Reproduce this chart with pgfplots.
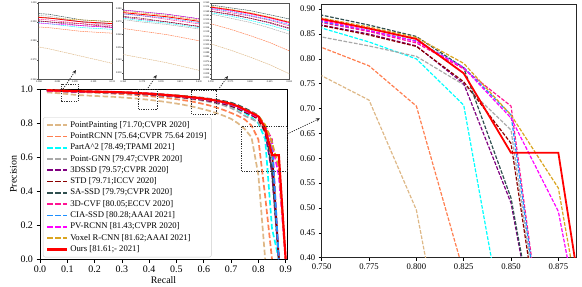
\documentclass[border=0pt]{standalone}
\usepackage{pgfplots}
\pgfplotsset{compat=1.18}
\usepackage{pgfplotstable}
\usepackage{fontspec}
\setmainfont{Liberation Serif}
\usetikzlibrary{arrows.meta}

\definecolor{cPP}{HTML}{DEB887}
\definecolor{cPR}{HTML}{FF7F50}
\definecolor{cPA}{HTML}{00FFFF}
\definecolor{cGN}{HTML}{A9A9A9}
\definecolor{cSS}{HTML}{800080}
\definecolor{cSTD}{HTML}{8B0000}
\definecolor{cSA}{HTML}{2F4F4F}
\definecolor{cCVF}{HTML}{FF1493}
\definecolor{cCIA}{HTML}{1E90FF}
\definecolor{cPV}{HTML}{FF00FF}
\definecolor{cVX}{HTML}{DAA520}
\definecolor{cOurs}{HTML}{FF0000}

\pgfplotstableread{
r p
0.025 0.982
0.050 0.979
0.075 0.976
0.100 0.972
0.125 0.968
0.150 0.965
0.175 0.963
0.200 0.961
0.225 0.959
0.250 0.957
0.275 0.955
0.300 0.952
0.325 0.949
0.350 0.946
0.375 0.942
0.400 0.938
0.425 0.933
0.450 0.928
0.475 0.922
0.500 0.916
0.525 0.909
0.550 0.901
0.575 0.892
0.600 0.882
0.625 0.871
0.650 0.858
0.675 0.843
0.700 0.826
0.725 0.800
0.750 0.766
0.775 0.717
0.800 0.496
0.825 0.000
}\tPP

\pgfplotstableread{
r p
0.025 0.990
0.050 0.988
0.075 0.987
0.100 0.985
0.125 0.984
0.150 0.983
0.175 0.981
0.200 0.980
0.225 0.978
0.250 0.976
0.275 0.974
0.300 0.972
0.325 0.969
0.350 0.966
0.375 0.963
0.400 0.960
0.425 0.956
0.450 0.952
0.475 0.947
0.500 0.942
0.525 0.936
0.550 0.930
0.575 0.922
0.600 0.913
0.625 0.903
0.650 0.891
0.675 0.877
0.700 0.861
0.725 0.844
0.750 0.823
0.775 0.786
0.800 0.705
0.825 0.370
0.850 0.000
}\tPR

\pgfplotstableread{
r p
0.025 0.993
0.050 0.991
0.075 0.989
0.100 0.987
0.125 0.986
0.150 0.985
0.175 0.984
0.200 0.983
0.225 0.982
0.250 0.981
0.275 0.980
0.300 0.979
0.325 0.976
0.350 0.974
0.375 0.971
0.400 0.969
0.425 0.966
0.450 0.963
0.475 0.959
0.500 0.956
0.525 0.951
0.550 0.946
0.575 0.941
0.600 0.935
0.625 0.928
0.650 0.920
0.675 0.911
0.700 0.900
0.725 0.883
0.750 0.862
0.775 0.834
0.800 0.800
0.825 0.707
0.850 0.180
0.875 0.000
}\tPA

\pgfplotstableread{
r p
0.025 0.996
0.050 0.994
0.075 0.993
0.100 0.990
0.125 0.988
0.150 0.986
0.175 0.985
0.200 0.983
0.225 0.982
0.250 0.981
0.275 0.980
0.300 0.979
0.325 0.976
0.350 0.973
0.375 0.970
0.400 0.968
0.425 0.965
0.450 0.962
0.475 0.958
0.500 0.955
0.525 0.950
0.550 0.944
0.575 0.938
0.600 0.932
0.625 0.924
0.650 0.915
0.675 0.904
0.700 0.890
0.725 0.870
0.750 0.844
0.775 0.826
0.800 0.805
0.825 0.748
0.850 0.657
0.875 0.000
}\tGN

\pgfplotstableread{
r p
0.025 0.993
0.050 0.991
0.075 0.990
0.100 0.988
0.125 0.987
0.150 0.986
0.175 0.985
0.200 0.984
0.225 0.983
0.250 0.982
0.275 0.981
0.300 0.980
0.325 0.977
0.350 0.975
0.375 0.972
0.400 0.970
0.425 0.967
0.450 0.964
0.475 0.961
0.500 0.958
0.525 0.953
0.550 0.948
0.575 0.943
0.600 0.938
0.625 0.931
0.650 0.923
0.675 0.914
0.700 0.903
0.725 0.888
0.750 0.868
0.775 0.850
0.800 0.826
0.825 0.750
0.850 0.510
0.875 0.000
}\tSS

\pgfplotstableread{
r p
0.025 0.994
0.050 0.992
0.075 0.990
0.100 0.989
0.125 0.987
0.150 0.986
0.175 0.985
0.200 0.984
0.225 0.983
0.250 0.982
0.275 0.981
0.300 0.979
0.325 0.977
0.350 0.975
0.375 0.973
0.400 0.970
0.425 0.967
0.450 0.964
0.475 0.961
0.500 0.957
0.525 0.953
0.550 0.948
0.575 0.944
0.600 0.938
0.625 0.932
0.650 0.924
0.675 0.915
0.700 0.903
0.725 0.887
0.750 0.867
0.775 0.848
0.800 0.825
0.825 0.754
0.850 0.630
0.875 0.000
}\tSTD

\pgfplotstableread{
r p
0.025 0.996
0.050 0.995
0.075 0.994
0.100 0.991
0.125 0.990
0.150 0.989
0.175 0.988
0.200 0.987
0.225 0.986
0.250 0.985
0.275 0.984
0.300 0.983
0.325 0.982
0.350 0.980
0.375 0.978
0.400 0.976
0.425 0.973
0.450 0.970
0.475 0.967
0.500 0.964
0.525 0.961
0.550 0.957
0.575 0.953
0.600 0.949
0.625 0.943
0.650 0.937
0.675 0.930
0.700 0.921
0.725 0.907
0.750 0.888
0.775 0.868
0.800 0.845
0.825 0.782
0.850 0.520
0.875 0.000
}\tSA

\pgfplotstableread{
r p
0.025 0.994
0.050 0.992
0.075 0.991
0.100 0.989
0.125 0.988
0.150 0.987
0.175 0.986
0.200 0.985
0.225 0.984
0.250 0.983
0.275 0.982
0.300 0.981
0.325 0.979
0.350 0.977
0.375 0.975
0.400 0.972
0.425 0.969
0.450 0.966
0.475 0.963
0.500 0.960
0.525 0.955
0.550 0.951
0.575 0.946
0.600 0.941
0.625 0.935
0.650 0.927
0.675 0.919
0.700 0.908
0.725 0.893
0.750 0.873
0.775 0.855
0.800 0.832
0.825 0.780
0.850 0.705
0.875 0.000
}\tCVF

\pgfplotstableread{
r p
0.025 0.995
0.050 0.993
0.075 0.992
0.100 0.990
0.125 0.989
0.150 0.988
0.175 0.987
0.200 0.985
0.225 0.984
0.250 0.983
0.275 0.982
0.300 0.981
0.325 0.979
0.350 0.977
0.375 0.975
0.400 0.973
0.425 0.970
0.450 0.967
0.475 0.964
0.500 0.960
0.525 0.956
0.550 0.952
0.575 0.948
0.600 0.942
0.625 0.936
0.650 0.929
0.675 0.921
0.700 0.910
0.725 0.895
0.750 0.875
0.775 0.857
0.800 0.836
0.825 0.783
0.850 0.687
0.875 0.000
}\tCIA

\pgfplotstableread{
r p
0.025 0.992
0.050 0.990
0.075 0.989
0.100 0.988
0.125 0.987
0.150 0.987
0.175 0.987
0.200 0.987
0.225 0.986
0.250 0.986
0.275 0.985
0.300 0.984
0.325 0.982
0.350 0.980
0.375 0.978
0.400 0.976
0.425 0.973
0.450 0.969
0.475 0.965
0.500 0.961
0.525 0.957
0.550 0.953
0.575 0.949
0.600 0.944
0.625 0.938
0.650 0.931
0.675 0.922
0.700 0.912
0.725 0.897
0.750 0.877
0.775 0.857
0.800 0.835
0.825 0.782
0.850 0.681
0.875 0.493
0.900 0.000
}\tPV

\pgfplotstableread{
r p
0.025 0.995
0.050 0.994
0.075 0.992
0.100 0.991
0.125 0.990
0.150 0.989
0.175 0.988
0.200 0.987
0.225 0.986
0.250 0.985
0.275 0.984
0.300 0.983
0.325 0.981
0.350 0.979
0.375 0.977
0.400 0.975
0.425 0.972
0.450 0.969
0.475 0.966
0.500 0.963
0.525 0.959
0.550 0.955
0.575 0.951
0.600 0.946
0.625 0.940
0.650 0.933
0.675 0.925
0.700 0.915
0.725 0.901
0.750 0.882
0.775 0.864
0.800 0.843
0.825 0.791
0.850 0.687
0.875 0.540
0.900 0.000
}\tVX

\pgfplotstableread{
r p
0.025 0.995
0.050 0.993
0.075 0.992
0.100 0.990
0.125 0.989
0.150 0.988
0.175 0.987
0.200 0.986
0.225 0.985
0.250 0.984
0.275 0.983
0.300 0.982
0.325 0.980
0.350 0.978
0.375 0.976
0.400 0.974
0.425 0.971
0.450 0.968
0.475 0.965
0.500 0.962
0.525 0.958
0.550 0.954
0.575 0.950
0.600 0.945
0.625 0.939
0.650 0.932
0.675 0.924
0.700 0.914
0.725 0.900
0.750 0.880
0.775 0.861
0.800 0.840
0.825 0.771
0.850 0.611
0.875 0.611
0.900 0.000
}\tOurs

\newcommand{\plotall}[2]{%
\addplot[cPP,#1] table[x=r,y=p]{\tPP};
\addplot[cPR,#1] table[x=r,y=p]{\tPR};
\addplot[cPA,#1] table[x=r,y=p]{\tPA};
\addplot[cGN,#1] table[x=r,y=p]{\tGN};
\addplot[cSS,#1] table[x=r,y=p]{\tSS};
\addplot[cSTD,#1] table[x=r,y=p]{\tSTD};
\addplot[cSA,#1] table[x=r,y=p]{\tSA};
\addplot[cCVF,#1] table[x=r,y=p]{\tCVF};
\addplot[cCIA,#1] table[x=r,y=p]{\tCIA};
\addplot[cPV,#1] table[x=r,y=p]{\tPV};
\addplot[cVX,#1] table[x=r,y=p]{\tVX};
\addplot[cOurs,#2] table[x=r,y=p]{\tOurs};
}

\pgfplotsset{
  /pgf/number format/assume math mode=true,
  inset/.style={
    scale only axis, anchor=south west,
    axis line style={gray!65!black, line width=0.5bp},
    tick pos=left, tick align=outside, major tick length=1bp,
    tick style={gray!65!black, line width=0.3bp},
    tick label style={font=\fontsize{2.5}{3}\selectfont, inner sep=0.5bp},
    scaled ticks=false,
    xticklabel style={/pgf/number format/fixed, /pgf/number format/fixed zerofill, /pgf/number format/precision=3},
    yticklabel style={/pgf/number format/fixed, /pgf/number format/fixed zerofill, /pgf/number format/precision=3},
  },
}

\begin{document}
\begin{tikzpicture}
\useasboundingbox (0,0) rectangle (582bp,287bp);

% main axis
\begin{axis}[
  at={(40bp,28bp)}, anchor=south west,
  scale only axis, width=247bp, height=169.7bp,
  xmin=0, xmax=0.905, ymin=0, ymax=1,
  xtick={0,0.1,0.2,0.3,0.4,0.5,0.6,0.7,0.8,0.9},
  ytick={0,0.2,0.4,0.6,0.8,1.0},
  scaled ticks=false,
  tick pos=left, tick align=outside, major tick length=3.5bp,
  tick style={black, line width=0.6bp},
  axis line style={line width=0.8bp},
  tick label style={font=\fontsize{10}{12}\selectfont},
  xticklabel style={/pgf/number format/fixed, /pgf/number format/fixed zerofill, /pgf/number format/precision=1},
  yticklabel style={/pgf/number format/fixed, /pgf/number format/fixed zerofill, /pgf/number format/precision=1},
  xlabel={Recall}, ylabel={Precision},
  label style={font=\fontsize{10}{12}\selectfont},
  xlabel style={yshift=3bp},
  ylabel style={yshift=-3bp},
  clip=false,
  legend image code/.code={\draw[#1] (0bp,0bp) -- (20bp,0bp);},
  legend cell align=left,
  legend style={at={(0.012,0.835)}, anchor=north west, draw=gray!40, rounded corners=2pt,
    font=\fontsize{8.7}{9.5}\selectfont, row sep=0pt,
    nodes={inner ysep=1.65bp, inner xsep=2bp, text height=6bp, text depth=2bp}},
  legend entries={{PointPainting [71.70;CVPR 2020]},
    {PointRCNN [75.64;CVPR 75.64 2019]},
    {PartA\textasciicircum 2 [78.49;TPAMI 2021]},
    {Point-GNN [79.47;CVPR 2020]},
    {3DSSD [79.57;CVPR 2020]},
    {STD [79.71;ICCV 2020]},
    {SA-SSD [79.79;CVPR 2020]},
    {3D-CVF [80.05;ECCV 2020]},
    {CIA-SSD [80.28;AAAI 2021]},
    {PV-RCNN [81.43;CVPR 2020]},
    {Voxel R-CNN [81.62;AAAI 2021]},
    {Ours [81.61;- 2021]}},
]
\plotall{line width=1.7bp, dash pattern=on 5.5bp off 2.5bp}{line width=2.2bp}
\draw[dash pattern=on 1.2bp off 1.2bp, line width=0.8bp, black!80] (axis cs:0.0795,0.927) rectangle (axis cs:0.140,1.031);
\draw[dash pattern=on 1.2bp off 1.2bp, line width=0.8bp, black!80] (axis cs:0.360,0.882) rectangle (axis cs:0.430,1.000);
\draw[dash pattern=on 1.2bp off 1.2bp, line width=0.8bp, black!80] (axis cs:0.556,0.853) rectangle (axis cs:0.647,0.996);
\draw[dash pattern=on 1.2bp off 1.2bp, line width=0.8bp, black!80] (axis cs:0.739,0.519) rectangle (axis cs:0.906,0.784);
\end{axis}

% right zoomed axis
\begin{axis}[
  at={(321.7bp,29.3bp)}, anchor=south west,
  scale only axis, width=255bp, height=253bp,
  xmin=0.75, xmax=0.8847, ymin=0.40, ymax=0.909,
  xtick={0.75,0.775,0.8,0.825,0.85,0.875},
  ytick={0.40,0.45,0.50,0.55,0.60,0.65,0.70,0.75,0.80,0.85,0.90},
  scaled ticks=false,
  tick pos=left, tick align=outside, major tick length=3bp,
  tick style={black, line width=0.6bp},
  axis line style={line width=0.8bp, black!85},
  tick label style={font=\fontsize{8.7}{10}\selectfont},
  xticklabel style={/pgf/number format/fixed, /pgf/number format/fixed zerofill, /pgf/number format/precision=3},
  yticklabel style={/pgf/number format/fixed, /pgf/number format/fixed zerofill, /pgf/number format/precision=2},
]
\plotall{line width=1.2bp, dash pattern=on 3.7bp off 1.6bp}{line width=1.8bp}
\end{axis}

% insets
\begin{axis}[inset, at={(38.3bp,207.7bp)}, width=74bp, height=76.6bp,
  xmin=0.0675, xmax=0.123, ymin=0.96, ymax=1.0,
  xtick={0.068,0.082,0.095,0.109,0.123}, ytick={0.96,0.97,0.98,0.99,1.00}]
\plotall{line width=0.5bp, dash pattern=on 1.5bp off 0.7bp}{line width=0.8bp}
\end{axis}
\begin{axis}[inset, at={(123.3bp,207.7bp)}, width=75.7bp, height=76.6bp,
  xmin=0.36, xmax=0.43, ymin=0.925, ymax=0.985,
  xtick={0.36,0.3775,0.395,0.4125,0.43}, ytick={0.93,0.94,0.95,0.96,0.97,0.98}]
\plotall{line width=0.5bp, dash pattern=on 1.5bp off 0.7bp}{line width=0.8bp}
\end{axis}
\begin{axis}[inset, at={(211bp,207.7bp)}, width=78.3bp, height=76.3bp,
  xmin=0.55, xmax=0.65, ymin=0.85, ymax=0.96,
  xtick={0.55,0.575,0.6,0.625,0.65}, ytick distance=0.006]
\plotall{line width=0.5bp, dash pattern=on 1.5bp off 0.7bp}{line width=0.8bp}
\end{axis}

% arrows
\draw[dash pattern=on 1.2bp off 1.2bp, line width=0.7bp, black!85, -{Stealth[length=4bp,width=3.5bp]}] (63bp,198bp) -- (76bp,217bp);
\draw[dash pattern=on 1.2bp off 1.2bp, line width=0.7bp, black!85, -{Stealth[length=4bp,width=3.5bp]}] (148bp,199bp) -- (156.7bp,212bp);
\draw[dash pattern=on 1.2bp off 1.2bp, line width=0.7bp, black!85, -{Stealth[length=4bp,width=3.5bp]}] (218bp,197bp) -- (228bp,211bp);
\draw[dash pattern=on 1.2bp off 1.2bp, line width=0.7bp, black!85, -{Stealth[length=4bp,width=3.5bp]}] (287.3bp,153bp) -- (320bp,168.7bp);
\end{tikzpicture}
\end{document}
